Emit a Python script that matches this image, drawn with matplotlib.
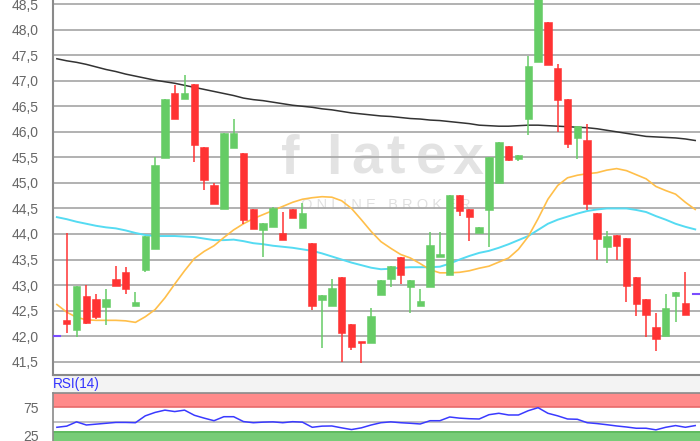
import numpy as np
import matplotlib.pyplot as plt
from matplotlib.patches import Rectangle
import matplotlib.transforms as mtransforms

plt.rcParams['font.family'] = ['Liberation Sans', 'DejaVu Sans']

# Kursdaten (Kerzen), von links nach rechts
opens = [42.32, 42.12, 42.79, 42.72, 42.58, 43.12, 43.25, 42.60, 43.29, 43.70,
         45.48, 46.75, 46.64, 46.93, 45.71, 44.96, 44.48, 45.68, 45.59, 44.48,
         44.08, 44.13, 44.01, 44.48, 44.11, 43.83, 42.71, 42.60, 43.15, 42.24,
         41.88, 41.87, 42.81, 43.11, 43.54, 42.97, 42.60, 42.96, 43.54, 43.19,
         44.77, 44.48, 44.01, 44.46, 45.00, 45.73, 45.47, 46.26, 47.37, 48.15,
         47.24, 46.65, 45.87, 45.84, 44.42, 43.75, 43.99, 43.93, 43.15, 42.72,
         42.17, 42.00, 42.79, 42.64]
highs = [44.01, 42.98, 43.00, 42.82, 42.92, 43.38, 43.35, 42.87, 43.96, 45.51,
         46.64, 46.92, 47.11, 46.93, 45.71, 45.00, 45.98, 46.25, 45.59, 44.48,
         44.22, 44.52, 44.44, 44.48, 44.60, 43.83, 42.81, 43.11, 43.15, 42.24,
         41.88, 42.56, 43.10, 43.37, 43.54, 43.10, 42.92, 44.03, 44.03, 44.77,
         44.77, 44.48, 44.14, 45.50, 45.81, 45.73, 45.54, 47.48, 49.00, 48.15,
         47.32, 46.65, 46.11, 46.15, 44.42, 44.06, 43.99, 43.93, 43.15, 42.72,
         42.46, 42.82, 42.86, 43.26]
lows = [42.07, 41.98, 42.23, 42.33, 42.22, 42.98, 42.83, 42.60, 43.26, 43.70,
        45.48, 46.26, 46.64, 45.41, 44.86, 44.59, 44.48, 45.68, 44.20, 44.10,
        43.54, 44.13, 43.88, 44.32, 44.11, 42.51, 41.76, 42.60, 41.50, 41.72,
        41.48, 41.87, 42.81, 42.96, 43.03, 42.45, 42.60, 42.96, 43.54, 43.19,
        44.36, 43.87, 44.01, 43.75, 45.00, 45.43, 45.43, 45.94, 47.37, 47.30,
        46.00, 45.68, 45.47, 44.47, 43.49, 43.44, 43.50, 42.67, 42.39, 41.98,
        41.71, 42.00, 42.27, 42.41]
closes = [42.24, 42.98, 42.25, 42.38, 42.72, 42.98, 42.92, 42.66, 43.96, 45.36,
          46.64, 46.26, 46.75, 45.75, 45.06, 44.59, 45.98, 45.98, 44.27, 44.10,
          44.22, 44.50, 43.88, 44.32, 44.42, 42.59, 42.81, 42.95, 42.07, 41.79,
          41.86, 42.39, 43.10, 43.37, 43.19, 43.10, 42.69, 43.78, 43.61, 44.77,
          44.45, 44.33, 44.14, 45.50, 45.81, 45.45, 45.54, 47.29, 48.90, 47.30,
          46.62, 45.77, 46.11, 44.59, 43.91, 43.96, 43.77, 42.99, 42.63, 42.42,
          41.94, 42.56, 42.86, 42.41]

# gleitende Durchschnitte (Index -1 bis 64)
ma_long = [47.43, 47.39, 47.36, 47.32, 47.27, 47.22, 47.18, 47.13, 47.09, 47.05,
           47.01, 46.98, 46.95, 46.91, 46.87, 46.83, 46.79, 46.75, 46.71, 46.66,
           46.63, 46.61, 46.58, 46.55, 46.52, 46.50, 46.48, 46.45, 46.43, 46.40,
           46.37, 46.35, 46.33, 46.31, 46.30, 46.28, 46.26, 46.25, 46.23, 46.22,
           46.20, 46.18, 46.16, 46.13, 46.12, 46.11, 46.11, 46.12, 46.13, 46.13,
           46.12, 46.11, 46.10, 46.09, 46.08, 46.06, 46.03, 46.00, 45.97, 45.94,
           45.91, 45.90, 45.89, 45.88, 45.86, 45.83]
ma_mid = [44.33, 44.29, 44.24, 44.20, 44.16, 44.13, 44.11, 44.07, 44.02, 43.98,
          43.96, 43.96, 43.96, 43.95, 43.94, 43.91, 43.88, 43.88, 43.89, 43.86,
          43.82, 43.80, 43.77, 43.75, 43.73, 43.70, 43.67, 43.62, 43.56, 43.50,
          43.44, 43.39, 43.34, 43.31, 43.32, 43.34, 43.35, 43.35, 43.35, 43.36,
          43.42, 43.50, 43.57, 43.63, 43.67, 43.73, 43.80, 43.88, 43.96, 44.08,
          44.20, 44.28, 44.34, 44.40, 44.45, 44.48, 44.50, 44.50, 44.50, 44.47,
          44.43, 44.35, 44.28, 44.20, 44.14, 44.09]
ma_short = [42.62, 42.47, 42.37, 42.32, 42.31, 42.31, 42.31, 42.30, 42.27, 42.38,
            42.52, 42.75, 43.02, 43.28, 43.52, 43.66, 43.77, 43.93, 44.08, 44.20,
            44.30, 44.38, 44.46, 44.54, 44.62, 44.68, 44.71, 44.73, 44.72, 44.65,
            44.50, 44.28, 44.05, 43.85, 43.72, 43.60, 43.53, 43.42, 43.30, 43.24,
            43.24, 43.25, 43.28, 43.33, 43.37, 43.45, 43.53, 43.70, 43.95, 44.30,
            44.68, 44.95, 45.10, 45.15, 45.18, 45.20, 45.25, 45.28, 45.24, 45.16,
            45.08, 44.93, 44.85, 44.78, 44.62, 44.48]

rsi = [40.0, 42.0, 49.5, 44.0, 45.5, 47.0, 48.5, 48.5, 48.0, 60.0,
       66.0, 70.0, 67.5, 70.0, 61.0, 56.0, 51.5, 58.5, 58.5, 50.0,
       48.0, 49.0, 49.5, 48.0, 49.8, 49.0, 40.0, 42.0, 42.3, 39.0,
       36.0, 39.0, 44.0, 48.0, 49.5, 48.0, 47.0, 45.8, 51.5, 51.5,
       58.0, 56.0, 55.0, 54.5, 62.0, 64.5, 61.5, 61.5, 69.0, 74.3,
       64.5, 60.0, 54.5, 54.0, 48.0, 46.5, 44.5, 42.3, 40.5, 38.3,
       38.3, 35.5, 40.0, 43.0, 40.0, 43.0]

price_ticks = [41.5, 42.0, 42.5, 43.0, 43.5, 44.0, 44.5, 45.0, 45.5, 46.0, 46.5, 47.0, 47.5, 48.0, 48.5]
rsi_ticks = [25, 75]
marker_left = 42.0
marker_right = 42.82

W, H = 700, 441
fig = plt.figure(figsize=(7, 4.41), dpi=100, facecolor='white')

def px(x0, y0, x1, y1):
    # Pixelkoordinaten (oben links) -> Figurenanteile
    return [x0 / W, 1 - y1 / H, (x1 - x0) / W, (y1 - y0) / H]

# grauer Streifen zwischen den Panels
fig.patches.append(Rectangle((53 / W, 1 - 392.7 / H), 1, (392.7 - 375) / H,
                             transform=fig.transFigure, facecolor='#f3f3f3',
                             edgecolor='none', zorder=-1))

ax = fig.add_axes(px(52.5, 0, 701, 375))
ax2 = fig.add_axes(px(52.5, 392.7, 701, 441))

n = len(opens)
idx = np.arange(n)
ma_x = np.arange(-1, n + 1)

ax.set_facecolor('white')

# Wasserzeichen
wm_letters = ['f', 'l', 'a', 't', 'e', 'x']
wm_xpos = [290, 334, 367, 396, 431, 468]
for ch, xp in zip(wm_letters, wm_xpos):
    ax.text(xp / W, 1 - 160 / H, ch, fontsize=40, color='#e3e3e3',
            fontweight='bold', ha='center', va='center', zorder=0.5,
            transform=fig.transFigure)
ax.text(386 / W, 1 - 205 / H, 'O N L I N E   B R O K E R', fontsize=10.5,
        color='#e0e0e0', ha='center', va='center', zorder=0.5,
        transform=fig.transFigure)

for v in price_ticks:
    ax.axhline(v, color='#ababab', lw=1.3, zorder=1)

ax.plot(ma_x, ma_long, color='#333333', lw=1.1, zorder=2)
ax.plot(ma_x, ma_mid, color='#55dbf2', lw=1.4, zorder=2)
ax.plot(ma_x, ma_short, color='#ffbf4a', lw=1.2, zorder=2)

o = np.array(opens)
c = np.array(closes)
up = c >= o
cols = np.where(up, '#66cc66', '#ff3333')
ax.vlines(idx, lows, highs, colors=cols, lw=1.1, zorder=3)
bottoms = np.minimum(o, c)
heights = np.maximum(np.abs(c - o), 0.04)
ax.bar(idx, heights, bottom=bottoms, width=0.76, color=cols, edgecolor=cols,
       lw=0.4, zorder=4)

trans = mtransforms.blended_transform_factory(ax.transAxes, ax.transData)
ax.plot([0.0, 0.011], [marker_left] * 2, color='#7a4cff', lw=1.5, transform=trans, zorder=5)
ax.plot([0.987, 1.0], [marker_right] * 2, color='#7a4cff', lw=1.5, transform=trans, zorder=5)

ax.set_xlim(-1.446, 64.59)
ax.set_ylim(41.24, 48.58)
ax.set_yticks(price_ticks)
ax.set_yticklabels([f'{v:.1f}'.replace('.', ',') for v in price_ticks])
ax.set_xticks([])
ax.tick_params(axis='y', length=0, pad=10, labelsize=10, labelcolor='#666666')
for s in ['top', 'right']:
    ax.spines[s].set_visible(False)
for s in ['left', 'bottom']:
    ax.spines[s].set_color('#8a8a8a')
    ax.spines[s].set_linewidth(1.5)

# RSI
ax2.set_facecolor('white')
ax2.axhspan(75, 100.5, color='#ff8a8a', lw=0, zorder=1)
ax2.axhline(75, color='#e86a6a', lw=1.2, zorder=1)
ax2.axhspan(16, 33, color='#77cc77', lw=0, zorder=1)
ax2.axhline(32, color='#5cb85c', lw=1.2, zorder=1)
ax2.axhline(50, color='#b5b5b5', lw=1.2, zorder=1)
ax2.plot(ma_x, rsi, color='#3a3aff', lw=1.1, zorder=2)
ax2.set_xlim(-1.446, 64.59)
ax2.set_ylim(16, 100.5)
ax2.set_yticks(rsi_ticks)
ax2.set_xticks([])
ax2.tick_params(axis='y', length=0, pad=10, labelsize=10, labelcolor='#666666')
for s in ['right', 'bottom']:
    ax2.spines[s].set_visible(False)
for s in ['left', 'top']:
    ax2.spines[s].set_color('#8a8a8a')
    ax2.spines[s].set_linewidth(1.2)

fig.text(53 / W, 1 - 384 / H, 'RSI(14)', fontsize=9.8, color='#3333ff',
         ha='left', va='center')

fig.savefig('out.png', dpi=100, facecolor='white')
